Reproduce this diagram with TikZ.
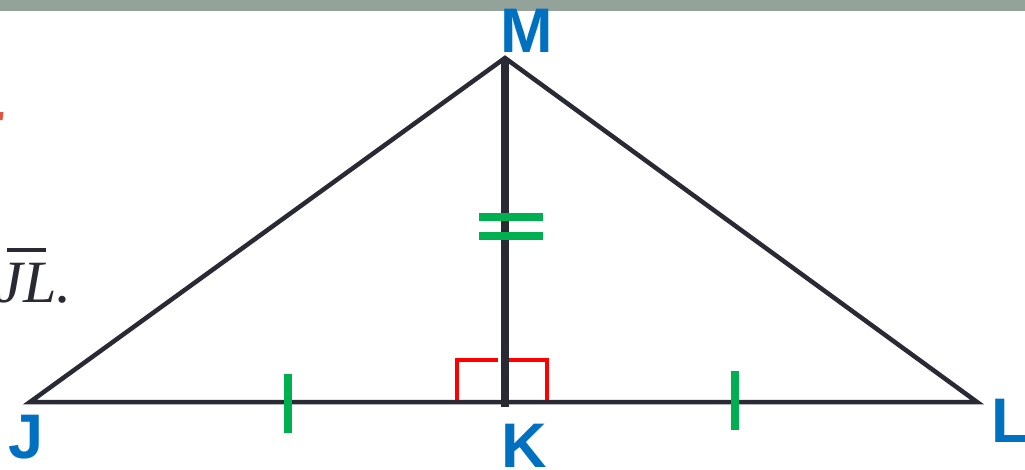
\documentclass[tikz,border=0pt]{standalone}
\usepackage{fontspec}
\setsansfont{Liberation Sans}
\newfontfamily\itserif{Liberation Serif}
\definecolor{barc}{HTML}{93A39A}
\definecolor{linec}{HTML}{2A2A35}
\definecolor{labc}{HTML}{0070C0}
\definecolor{tickc}{HTML}{00B050}
\definecolor{anglec}{HTML}{FF0000}
\definecolor{redfrag}{HTML}{E0553F}
\tikzset{
  side/.style={draw=linec, line width=4.5pt, line join=miter},
  alt/.style={draw=linec, line width=7.5pt},
  tickmark/.style={draw=tickc, line width=8pt},
  rightang/.style={draw=anglec, line width=4pt},
  vlabel/.style={text=labc, font=\sffamily\bfseries\fontsize{63}{63}\selectfont, inner sep=0pt, anchor=base west},
}
\begin{document}
\begin{tikzpicture}[x=1pt,y=-1pt]
\useasboundingbox (0,0) rectangle (1025,469);
\fill[white] (0,0) rectangle (1025,469);
% top bar
\fill[barc] (0,0) rectangle (1025,11);
% fragment of red text at left
\fill[redfrag] (0,112) -- (3.5,112) -- (2.5,120) -- (0,120) -- cycle;
% fragment of text
\node[text=linec, font=\itserif\itshape\fontsize{60}{60}\selectfont, inner sep=0pt, anchor=base east] (txt) at (72,302) {JL.};
\coordinate (ov1) at (7,250);
\coordinate (ov2) at (46,250);
\draw[draw=linec, line width=4pt] (ov1) -- (ov2);
% points
\coordinate (M) at (505,58);
\coordinate (J) at (30,402);
\coordinate (L) at (977,402);
\coordinate (K) at (505,402);
\coordinate (Kb) at (505,407);
% right angle mark
\coordinate (ra1) at (456.5,402);
\coordinate (ra2) at (456.5,359.5);
\coordinate (ra3) at (498,359.5);
\coordinate (ra4) at (507,359.5);
\coordinate (ra5) at (546.5,359.5);
\coordinate (ra6) at (546.5,402);
\draw[rightang] (ra1) -- (ra2) -- (ra3);
\draw[rightang] (ra4) -- (ra5) -- (ra6);
% triangle
\draw[side] (J) -- (M) -- (L) -- cycle;
\draw[alt] (M) -- (Kb);
% tick marks
\coordinate (t1a) at (287.5,374);
\coordinate (t1b) at (287.5,433);
\coordinate (t2a) at (735,371);
\coordinate (t2b) at (735,430);
\draw[tickmark] (t1a) -- (t1b);
\draw[tickmark] (t2a) -- (t2b);
\coordinate (d1a) at (479,217);
\coordinate (d1b) at (543,217);
\coordinate (d2a) at (479,235.5);
\coordinate (d2b) at (543,235.5);
\draw[tickmark] (d1a) -- (d1b);
\draw[tickmark] (d2a) -- (d2b);
% labels
\node[vlabel] (lM) at (500,52) {M};
\node[vlabel] (lK) at (501,467) {K};
\node[vlabel] (lJ) at (8,458) {J};
\node[vlabel] (lL) at (991,442) {L};
\end{tikzpicture}
\end{document}
